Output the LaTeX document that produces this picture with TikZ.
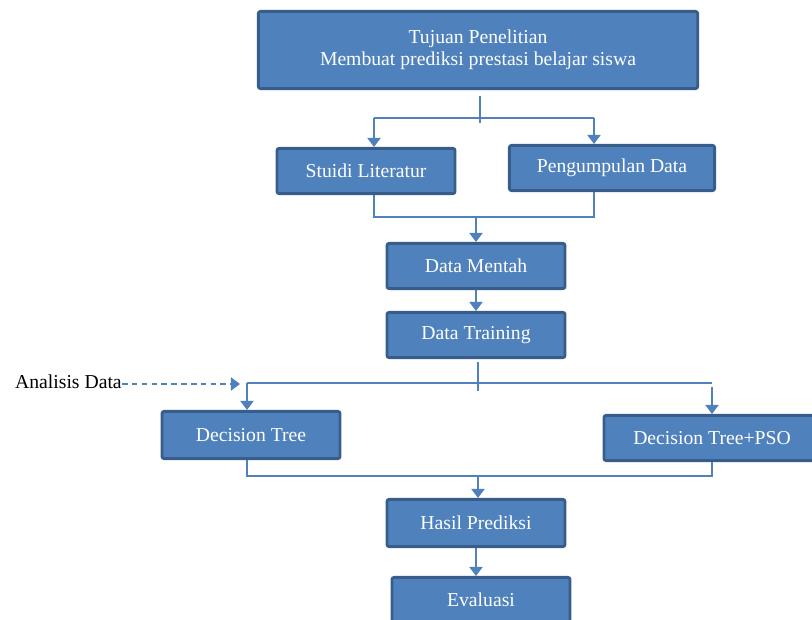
\documentclass[tikz,border=0pt]{standalone}
\usepackage{fontspec}
\setmainfont{Liberation Serif}
\usetikzlibrary{arrows.meta,positioning}
\definecolor{boxfill}{RGB}{79,129,189}
\definecolor{boxline}{RGB}{56,93,138}
\definecolor{linkblue}{RGB}{79,129,189}
\tikzstyle{stage} = [rectangle, rounded corners=1.5pt, text centered, draw=boxline, fill=boxfill, line width=2pt, text=white, minimum width=4.45cm, minimum height=1.13cm, font=\fontsize{14}{16}\selectfont]
\tikzstyle{link} = [line width=0.9pt, color=linkblue]
\tikzstyle{arrow} = [link, -{Triangle[width=9.5pt,length=6.5pt]}]

\begin{document}
\begin{tikzpicture}[x=0.025cm, y=-0.025cm]
\useasboundingbox (0,0) rectangle (812,620);
\clip (0,0) rectangle (812,620);
% Stages
\node (tujuan) [stage, minimum width=10.98cm, minimum height=1.93cm, align=center] at (478,50) {Tujuan Penelitian\\Membuat prediksi prestasi belajar siswa};
\node (studi) [stage] at (366,171) {Stuidi Literatur};
\node (kumpul) [stage, minimum width=5.13cm] at (612,168) {Pengumpulan Data};
\node (mentah) [stage] at (476,266) {Data Mentah};
\node (training) [stage] at (476,335) {Data Training};
\node (dt) [stage, minimum height=1.18cm] at (251,435) {Decision Tree};
\node (dtpso) [stage, minimum width=5.4cm] at (712,438) {Decision Tree+PSO};
\node (hasil) [stage, minimum height=1.18cm] at (476,523) {Hasil Prediksi};
\node (eval) [stage] at (481,600) {Evaluasi};
\node (analisis) [anchor=east, inner sep=0pt, font=\fontsize{14}{16}\selectfont] at (122,382) {Analisis Data};

% Junctions
\coordinate (l1) at (374,118);
\coordinate (r1) at (594,118);
\coordinate (l2) at (374,217);
\coordinate (r2) at (594,217);
\coordinate (merge1) at (476,217);
\coordinate (l3) at (247,383);
\coordinate (r3) at (712,383);
\coordinate (l4) at (247,476);
\coordinate (r4) at (712,476);
\coordinate (merge2) at (478,476);
\coordinate (dashend) at (240,384);

% Connectors
\draw[link, shorten <=4pt] (tujuan.south -| 480,0) -- ++(0,33);
\draw[link] (l1) -- (r1);
\draw[arrow] (l1) -- (l1 |- studi.north);
\draw[arrow] (r1) -- (r1 |- kumpul.north);
\draw[link] (l1 |- studi.south) -- (l2) -- (r2) -- (r1 |- kumpul.south);
\draw[arrow] (merge1) -- (mentah.north);
\draw[arrow] (mentah) -- (training);
\draw[link, shorten <=2pt] (training.south -| 478,0) -- ++(0,32);
\draw[link] (l3) -- (r3);
\draw[arrow] (l3) -- (l3 |- dt.north);
\draw[arrow, shorten <=3pt] (r3) -- (r3 |- dtpso.north);
\draw[link] (l4 |- dt.south) -- (l4) -- (r4) -- (r4 |- dtpso.south);
\draw[arrow] (merge2) -- (merge2 |- hasil.north);
\draw[arrow] (hasil.south) -- (hasil.south |- eval.north);
\draw[arrow, dash pattern=on 4pt off 3pt] (analisis.east |- dashend) -- (dashend);
\end{tikzpicture}
\end{document}
